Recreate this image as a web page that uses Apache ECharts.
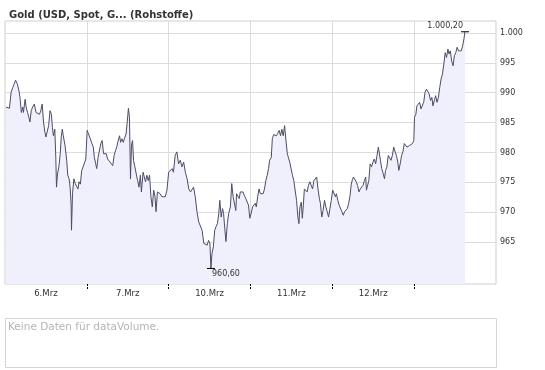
<!DOCTYPE html>
<html><head><meta charset="utf-8">
<script src="https://cdn.jsdelivr.net/npm/echarts@6/dist/echarts.min.js"></script>
<style>html,body{margin:0;padding:0;background:#fff}#c{width:545px;height:370px}</style>
</head><body><div id="c"></div>
<script>
const titleText = 'Gold (USD, Spot, G... (Rohstoffe)';
const noDataText = 'Keine Daten für dataVolume.';
const dayLabels = ['6.Mrz', '7.Mrz', '10.Mrz', '11.Mrz', '12.Mrz', ''];
const dayBoundaries = [24, 48, 72, 96, 120];
const yTicks = [965, 970, 975, 980, 985, 990, 995, 1000];
// trading hours since start of 6.Mrz (each trading day = 24 h on the axis)
const hours = [
0.3,0.7,1.3,1.8,2.3,2.6,3.1,3.6,4.1,4.4,4.8,5.2,5.4,5.9,6.2,6.6,7.0,7.3,7.7,8.1,8.6,9.1,9.6,10.1,10.5,10.9,11.3,11.7,12.0,12.4,12.8,13.2,13.6,13.9,14.2,14.6,14.9,15.1,15.4,15.8,16.2,16.5,16.8,17.1,17.6,18.1,18.4,18.8,19.1,19.4,19.5,19.8,20.2,20.6,21.0,21.4,21.7,22.1,22.5,22.9,23.3,23.7,
24.1,24.5,25.0,25.5,25.9,26.2,26.6,26.9,27.3,27.7,28.1,28.5,28.9,29.3,29.7,30.1,30.5,30.8,31.2,31.6,32.0,32.4,32.8,33.2,33.6,33.9,34.3,34.7,35.0,35.5,35.8,36.2,36.5,36.8,37.1,37.4,37.7,38.1,38.5,38.9,39.3,39.7,40.0,40.5,40.8,41.2,41.6,42.0,42.4,42.8,43.2,43.6,44.0,44.3,44.7,45.0,45.5,46.0,46.5,47.0,47.5,
48.0,48.5,49.0,49.4,49.9,50.4,50.9,51.4,51.9,52.4,52.9,53.4,53.9,54.4,54.9,55.3,55.8,56.3,56.8,57.3,57.8,58.3,58.8,59.3,59.7,60.1,60.4,60.7,61.1,61.5,61.9,62.3,62.7,63.0,63.4,63.8,64.1,64.5,64.8,65.2,65.6,66.1,66.5,66.9,67.3,67.7,67.9,68.2,68.7,69.0,69.4,69.8,70.2,70.6,71.0,71.4,71.8,
72.2,72.6,73.0,73.4,73.7,74.1,74.5,74.9,75.3,75.7,76.1,76.5,76.9,77.3,77.6,78.1,78.4,78.8,79.2,79.6,80.0,80.4,80.8,81.2,81.6,82.0,82.3,82.8,83.1,83.5,83.9,84.3,84.7,85.1,85.5,85.9,86.2,86.5,86.9,87.2,87.5,87.8,88.2,88.6,89.0,89.4,89.8,90.2,90.6,91.0,91.4,91.8,92.2,92.5,92.9,93.3,93.7,94.1,94.5,94.9,95.3,95.7,
96.1,96.5,96.9,97.2,97.6,98.0,98.4,98.8,99.2,99.6,100.0,100.4,100.8,101.2,101.5,101.9,102.2,102.6,103.0,103.4,103.8,104.2,104.6,105.0,105.4,105.8,106.0,106.4,106.7,107.1,107.5,107.9,108.3,108.7,109.1,109.5,109.8,110.1,110.5,110.8,111.3,111.6,112.0,112.4,112.8,113.2,113.6,114.0,114.4,114.8,115.2,115.5,116.0,116.3,116.7,117.1,117.5,117.9,118.3,118.7,119.1,119.5,119.9,
120.1,120.5,120.8,121.3,121.6,122.0,122.4,122.8,123.2,123.6,124.0,124.4,124.8,125.2,125.5,126.0,126.3,126.7,127.1,127.5,127.9,128.3,128.7,129.1,129.5,129.9,130.2,130.6,131.0,131.4,131.8,132.2,132.6,133.0,133.4,133.8,134.2,134.6,134.9
];
const prices = [
987.6,987.8,987.4,990.1,990.9,990.6,992.1,991.5,990.3,989.2,986.7,987.6,986.7,988.9,987.6,986.7,985.9,985.1,987.0,987.6,988.1,986.7,987.0,986.4,987.0,988.1,985.1,983.4,982.6,982.8,984.5,987.0,986.4,984.2,982.8,983.9,979.2,974.2,976.4,977.6,979.8,982.6,983.9,982.8,981.2,978.7,976.2,975.6,974.2,971.2,967.0,973.1,975.6,974.8,974.5,973.9,975.1,974.7,977.0,977.6,977.3,978.9,
983.7,983.1,982.3,981.5,980.9,979.2,978.1,977.3,979.2,979.5,981.5,982.0,979.8,979.5,979.8,978.9,978.7,978.4,978.4,977.8,979.5,980.3,981.0,982.0,982.8,981.7,982.3,981.7,982.3,983.1,984.8,987.4,985.9,975.6,981.2,982.0,978.7,978.4,976.4,975.3,974.2,976.2,973.4,976.7,976.4,975.1,976.2,975.3,976.2,972.6,970.9,973.7,972.6,970.1,973.4,973.7,973.1,972.6,972.3,972.6,973.7,
976.7,977.0,977.3,976.7,979.5,980.1,978.1,978.7,977.6,978.4,976.7,975.6,973.9,973.4,973.7,974.2,972.6,970.1,968.4,968.1,967.0,964.8,965.1,964.5,965.3,964.8,960.6,963.1,964.2,967.0,967.6,968.1,969.8,972.0,969.2,970.6,969.8,967.0,965.1,968.1,969.8,970.9,974.8,972.6,972.8,970.3,973.1,972.8,972.3,973.4,973.7,973.4,972.8,972.3,972.0,971.2,969.0,
969.8,970.9,971.2,971.5,970.9,972.6,973.9,973.1,972.8,973.1,973.9,975.3,976.2,977.3,978.7,979.2,982.3,983.0,983.1,982.8,983.2,983.7,982.8,983.9,982.8,984.5,982.6,979.8,979.2,978.4,978.7,976.2,975.3,975.1,972.0,969.2,968.1,970.9,971.7,969.0,971.2,973.9,974.2,973.4,974.5,975.1,975.3,973.9,975.3,975.1,975.9,973.9,972.3,971.5,969.2,970.3,972.0,970.9,970.1,969.2,970.6,972.0,
973.7,973.4,972.6,973.1,972.0,971.2,970.9,970.1,969.5,970.1,970.3,970.6,971.5,972.8,974.5,975.5,975.9,975.6,975.1,974.5,973.4,973.9,974.2,974.5,975.3,975.9,973.7,973.9,975.3,978.1,977.6,978.4,978.9,978.1,979.5,980.9,981.2,978.7,977.3,976.7,975.6,977.0,977.6,979.5,979.2,978.7,979.5,980.9,980.1,979.5,978.4,977.0,978.4,979.5,980.1,981.5,981.2,980.9,981.2,981.2,981.3,981.5,982.0,
985.9,986.4,987.8,987.6,988.4,987.3,987.6,988.4,990.1,990.6,990.3,989.8,988.7,989.2,987.8,988.9,989.5,988.4,989.2,990.9,992.3,993.1,994.8,996.7,995.9,997.3,996.5,997.0,995.3,994.5,996.2,996.7,997.6,997.0,997.3,997.0,997.8,999.0,1000.2
];

function deNum(v, dec) {
  const s = v.toFixed(dec);
  let [ip, fp] = s.split('.');
  ip = ip.replace(/\B(?=(\d{3})+(?!\d))/g, '.');
  return fp ? ip + ',' + fp : ip;
}

const FONT = 'DejaVu Sans';
const chart = echarts.init(document.getElementById('c'), null, {renderer: 'canvas'});
chart.setOption({
  animation: false,
  backgroundColor: '#fff',
  title: {
    text: titleText, left: 4, top: 5,
    textStyle: {fontFamily: FONT, fontSize: 10, fontWeight: 'bold', color: '#333'}
  },
  grid: {left: 5, right: 49, top: 21, bottom: 86, show: true, borderColor: '#cfcfcf', borderWidth: 1, containLabel: false},
  xAxis: [{
    type: 'value', min: 0, max: 144, interval: 24, position: 'bottom',
    axisLine: {show: false},
    axisTick: {show: true, customValues: dayBoundaries, length: 5, inside: false,
               lineStyle: {color: '#000', type: [2, 1], width: 1}},
    axisLabel: {show: false},
    splitLine: {show: true, lineStyle: {color: '#dcdcdc', width: 1}}
  }, {
    type: 'category', data: dayLabels, boundaryGap: true, position: 'bottom',
    axisLine: {show: false}, axisTick: {show: false}, splitLine: {show: false},
    axisLabel: {fontFamily: FONT, fontSize: 8.5, color: '#333', margin: 5, interval: 0}
  }],
  yAxis: {
    type: 'value', position: 'right', min: 958, max: 1002,
    axisLine: {show: false},
    axisTick: {show: false, customValues: yTicks},
    axisLabel: {customValues: yTicks, fontFamily: FONT, fontSize: 8, color: '#333', margin: 4,
                formatter: v => deNum(v, 0)},
    splitLine: {show: true, lineStyle: {color: '#dcdcdc', width: 1}}
  },
  series: [{
    type: 'line', xAxisIndex: 0,
    data: hours.map((h, i) => [h, prices[i]]),
    showSymbol: false, symbol: 'none',
    lineStyle: {color: '#4c4c66', width: 1},
    areaStyle: {color: '#f0f0fc', opacity: 1, origin: 'start'},
    markPoint: {
      symbol: 'rect', symbolSize: [8, 1], silent: true,
      itemStyle: {color: '#000'},
      data: [
        {type: 'max', label: {show: true, position: [2, -1], align: 'right', verticalAlign: 'bottom',
          fontFamily: FONT, fontSize: 8, color: '#333', formatter: p => deNum(p.value, 2)}},
        {type: 'min', label: {show: true, position: [5, 2], align: 'left', verticalAlign: 'top',
          fontFamily: FONT, fontSize: 8, color: '#333', formatter: p => deNum(p.value, 2)}}
      ]
    }
  }],
  graphic: [{
    type: 'rect', left: 5, top: 318,
    shape: {width: 491, height: 49},
    style: {fill: '#fff', stroke: '#d4d4d4', lineWidth: 1}
  }, {
    type: 'text', left: 8, top: 322,
    style: {text: noDataText, font: '10.5px "DejaVu Sans"', fill: '#b4b4b4'}
  }]
});
</script></body></html>
